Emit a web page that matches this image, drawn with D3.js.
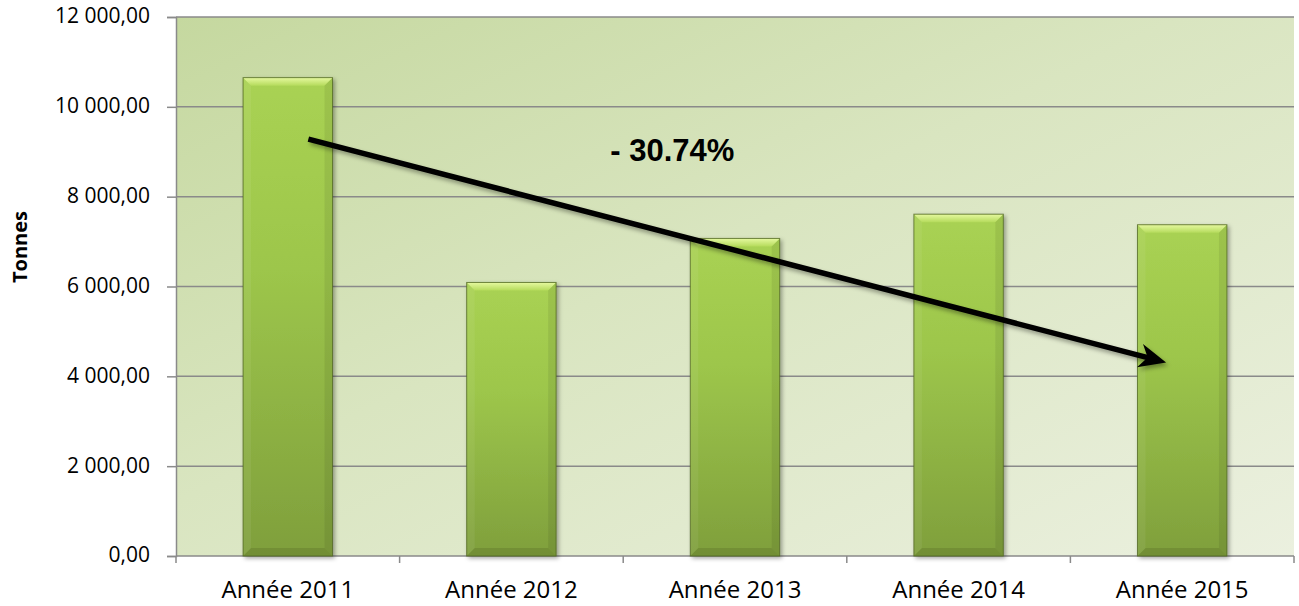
<!DOCTYPE html>
<html>
<head>
<meta charset="utf-8">
<script src="https://cdn.jsdelivr.net/npm/d3@7/dist/d3.min.js"></script>
<style>
  html, body { margin: 0; padding: 0; background: #ffffff; }
  svg { display: block; }
</style>
</head>
<body>
<svg id="chart" width="1299" height="606"></svg>
<script>
// ---- data ----
const categories = ["Année 2011", "Année 2012", "Année 2013", "Année 2014", "Année 2015"];
const values = [10650, 6090, 7070, 7610, 7375];
const yTicks = [0, 2000, 4000, 6000, 8000, 10000, 12000];
const yAxisTitle = "Tonnes";
const annotationText = "- 30.74%";
// arrow annotation anchored in data space: category, value, fraction across bar
const arrowFrom = { cat: "Année 2011", value: 9280, frac: 0.73 };
const arrowTo = { cat: "Année 2015", value: 4310, frac: 0.32 };
const labelAt = { cat: "Année 2013", value: 8800, frac: -0.2 };

(function () {
// ---- layout ----
const pLeft = 176, pRight = 1294, pTop = 17, pBottom = 556;

const svg = d3.select("#chart");
const defs = svg.append("defs");

// background gradient
const bg = defs.append("linearGradient").attr("id", "bgGrad")
  .attr("x1", "0%").attr("y1", "0%").attr("x2", "100%").attr("y2", "100%");
bg.append("stop").attr("offset", "0%").attr("stop-color", "#c5d89f");
bg.append("stop").attr("offset", "45%").attr("stop-color", "#d9e5c0");
bg.append("stop").attr("offset", "100%").attr("stop-color", "#ebf0df");

// bar body gradient
const bodyG = defs.append("linearGradient").attr("id", "barGrad")
  .attr("x1", "0").attr("y1", "0").attr("x2", "0").attr("y2", "1");
bodyG.append("stop").attr("offset", "0%").attr("stop-color", "#a9d253");
bodyG.append("stop").attr("offset", "40%").attr("stop-color", "#9dc64b");
bodyG.append("stop").attr("offset", "100%").attr("stop-color", "#7f9f3c");

const topG = defs.append("linearGradient").attr("id", "topGrad")
  .attr("x1", "0").attr("y1", "0").attr("x2", "0").attr("y2", "1");
topG.append("stop").attr("offset", "0%").attr("stop-color", "#e6f9a0");
topG.append("stop").attr("offset", "100%").attr("stop-color", "#b5db5c");

const shadow = defs.append("filter").attr("id", "shadow")
  .attr("x", "-20%").attr("y", "-20%").attr("width", "150%").attr("height", "150%");
shadow.append("feDropShadow").attr("dx", 2).attr("dy", 2).attr("stdDeviation", 2)
  .attr("flood-color", "#000").attr("flood-opacity", 0.35);

const arrowShadow = defs.append("filter").attr("id", "ashadow")
  .attr("x", "-10%").attr("y", "-50%").attr("width", "130%").attr("height", "200%");
arrowShadow.append("feDropShadow").attr("dx", 2).attr("dy", 3).attr("stdDeviation", 2)
  .attr("flood-color", "#000").attr("flood-opacity", 0.35);

// scales
const x = d3.scaleBand().domain(categories).range([pLeft, pRight])
  .paddingInner(0.6).paddingOuter(0.3);
const y = d3.scaleLinear().domain([0, 12000]).range([pBottom, pTop]);

// plot background
svg.append("rect").attr("x", pLeft).attr("y", pTop)
  .attr("width", pRight - pLeft).attr("height", pBottom - pTop)
  .attr("fill", "url(#bgGrad)");

// gridlines
svg.append("g").selectAll("line").data(yTicks.filter(d => d > 0)).join("line")
  .attr("x1", pLeft).attr("x2", pRight)
  .attr("y1", d => y(d)).attr("y2", d => y(d))
  .attr("stroke", "#8a8a8a").attr("stroke-width", 1.5);

// y axis
const loc = d3.formatLocale({ decimal: ",", thousands: " ", grouping: [3], currency: ["", ""] });
const fmt = loc.format(",.2f");
const yAxis = d3.axisLeft(y).tickValues(yTicks).tickSize(9).tickPadding(17).tickFormat(fmt);
const gy = svg.append("g").attr("transform", `translate(${pLeft},0)`).call(yAxis);
gy.select(".domain").attr("stroke", "#8a8a8a").attr("stroke-width", 1.5);
gy.selectAll(".tick line").attr("stroke", "#8a8a8a").attr("stroke-width", 1.5);
gy.selectAll(".tick text")
  .attr("font-family", "'Open Sans', sans-serif").attr("font-size", 21)
  .attr("fill", "#000").attr("dy", "0.28em");

// x axis
const xAxis = d3.axisBottom(x).tickSize(0).tickPadding(0);
const gx = svg.append("g").attr("transform", `translate(0,${pBottom})`).call(xAxis);
gx.select(".domain").remove();
svg.append("line").attr("x1", pLeft).attr("x2", pRight).attr("y1", pBottom).attr("y2", pBottom)
  .attr("stroke", "#8a8a8a").attr("stroke-width", 1.5);
// category boundary ticks
const step = x.step();
const boundaries = d3.range(categories.length + 1).map(i => pLeft + i * step);
svg.append("g").selectAll("line").data(boundaries).join("line")
  .attr("x1", d => d).attr("x2", d => d).attr("y1", pBottom).attr("y2", pBottom + 7)
  .attr("stroke", "#8a8a8a").attr("stroke-width", 1.5);
gx.selectAll(".tick text")
  .attr("font-family", "'Open Sans', sans-serif").attr("font-size", 24)
  .attr("fill", "#000").attr("dy", 0).attr("y", 42);

// y axis title
svg.append("text")
  .attr("transform", `translate(27,247) rotate(-90)`)
  .attr("text-anchor", "middle")
  .attr("font-family", "'Open Sans', sans-serif").attr("font-weight", "bold")
  .attr("font-size", 20).attr("fill", "#000")
  .text(yAxisTitle);

// bars with bevel
const bw = x.bandwidth();
const b = 8;
const bars = svg.append("g").selectAll("g").data(categories.map((c, i) => ({ c, v: values[i] })))
  .join("g").attr("filter", "url(#shadow)");
bars.append("rect")
  .attr("x", d => x(d.c)).attr("y", d => y(d.v))
  .attr("width", bw).attr("height", d => y(0) - y(d.v))
  .attr("fill", "url(#barGrad)");
bars.append("polygon").attr("points", d => {
  const x0 = x(d.c), x1 = x0 + bw, y0 = y(d.v);
  return [[x0, y0], [x1, y0], [x1 - b, y0 + b], [x0 + b, y0 + b]].join(" ");
}).attr("fill", "url(#topGrad)");
bars.append("polygon").attr("points", d => {
  const x0 = x(d.c), y0 = y(d.v), y1 = y(0);
  return [[x0, y0], [x0 + b, y0 + b], [x0 + b, y1 - b], [x0, y1]].join(" ");
}).attr("fill", "#ffffff").attr("opacity", 0.06);
bars.append("polygon").attr("points", d => {
  const x1 = x(d.c) + bw, y0 = y(d.v), y1 = y(0);
  return [[x1, y0], [x1 - b, y0 + b], [x1 - b, y1 - b], [x1, y1]].join(" ");
}).attr("fill", "#000000").attr("opacity", 0.07);
bars.append("polygon").attr("points", d => {
  const x0 = x(d.c), x1 = x0 + bw, y1 = y(0);
  return [[x0, y1], [x0 + b, y1 - b], [x1 - b, y1 - b], [x1, y1]].join(" ");
}).attr("fill", "#000000").attr("opacity", 0.1);
bars.append("rect")
  .attr("x", d => x(d.c)).attr("y", d => y(d.v))
  .attr("width", bw).attr("height", d => y(0) - y(d.v))
  .attr("fill", "none").attr("stroke", "#4d6320").attr("stroke-opacity", 0.75).attr("stroke-width", 1);

// arrow
const ax0 = x(arrowFrom.cat) + bw * arrowFrom.frac, ay0 = y(arrowFrom.value);
const ax1 = x(arrowTo.cat) + bw * arrowTo.frac, ay1 = y(arrowTo.value);
const ang = Math.atan2(ay1 - ay0, ax1 - ax0);
const headLen = 27, headHalf = 12, notch = 19;
const ux = Math.cos(ang), uy = Math.sin(ang), px = -uy, py = ux;
const baseX = ax1 - ux * headLen, baseY = ay1 - uy * headLen;
const notchX = ax1 - ux * notch, notchY = ay1 - uy * notch;
const ag = svg.append("g").attr("filter", "url(#ashadow)");
ag.append("line")
  .attr("x1", ax0).attr("y1", ay0).attr("x2", notchX + ux * 2).attr("y2", notchY + uy * 2)
  .attr("stroke", "#000").attr("stroke-width", 5.5);
ag.append("polygon")
  .attr("points", [[ax1, ay1], [baseX + px * headHalf, baseY + py * headHalf],
    [notchX, notchY], [baseX - px * headHalf, baseY - py * headHalf]].join(" "))
  .attr("fill", "#000");

// annotation label
svg.append("text")
  .attr("x", x(labelAt.cat) + bw * labelAt.frac).attr("y", y(labelAt.value))
  .attr("text-anchor", "middle")
  .attr("font-family", "'Liberation Sans', Arial, sans-serif")
  .attr("font-weight", "bold").attr("font-size", 31).attr("fill", "#000")
  .text(annotationText);
})();
</script>
</body>
</html>
